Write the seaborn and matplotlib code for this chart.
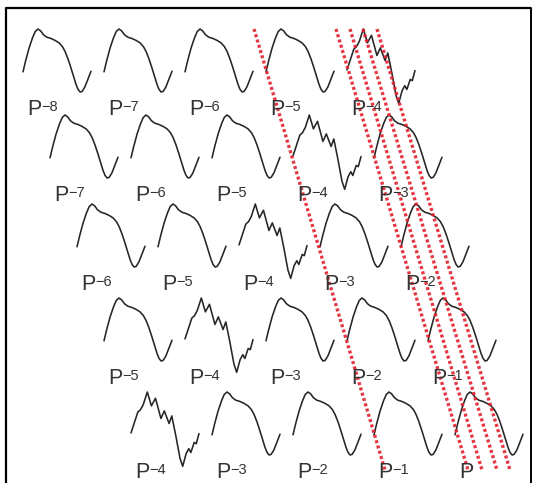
import matplotlib
matplotlib.use("Agg")
import numpy as np
import pandas as pd
import matplotlib.pyplot as plt
import seaborn as sns

# ---------------- data ----------------
# exponent suffix shown after "P" for each cell (row by row)
row_labels = [
    ["−8", "−7", "−6", "−5", "−4"],
    ["−7", "−6", "−5", "−4", "−3"],
    ["−6", "−5", "−4", "−3", "−2"],
    ["−5", "−4", "−3", "−2", "−1"],
    ["−4", "−3", "−2", "−1", ""],
]

# smooth waveform (normalised: u = 0..1 left->right, v = 0 trough .. 1 peak)
smooth_u = [0.00, 0.04, 0.09, 0.14, 0.18, 0.22, 0.26, 0.30, 0.35, 0.41, 0.47,
            0.53, 0.58, 0.62, 0.66, 0.70, 0.74, 0.78, 0.81, 0.84, 0.87, 0.91,
            0.95, 1.00]
smooth_v = [0.32, 0.50, 0.70, 0.86, 0.96, 1.00, 0.97, 0.91, 0.87, 0.85, 0.82,
            0.78, 0.72, 0.64, 0.53, 0.40, 0.26, 0.12, 0.04, 0.00, 0.01, 0.08,
            0.19, 0.33]

# jagged waveform (the P-4 cells)
noisy_u = [0.00, 0.10, 0.14, 0.18, 0.24, 0.30, 0.36, 0.44, 0.49, 0.56, 0.60,
           0.66, 0.72, 0.76, 0.81, 0.85, 0.88, 0.93, 0.96, 1.00]
noisy_v = [0.35, 0.68, 0.72, 0.80, 1.00, 0.78, 0.90, 0.58, 0.70, 0.50, 0.62,
           0.30, -0.05, -0.18, 0.02, 0.10, 0.04, 0.20, 0.18, 0.34]

# red dotted guide lines: x at the top and at the bottom
red_top_x = [254, 336, 350, 363, 377]
red_bottom_x = [385, 468, 482, 497, 510]
red_top_y = 29
red_bottom_y = 470

# ---------------- layout ----------------
W_PX, H_PX = 535, 483
X0 = 23
COL_STEP = 81
ROW_SHIFT = 27
ROW_TOPS = [29, 115, 204, 298, 392]
WAVE_W = 68
WAVE_H = 63
LABEL_DX = 4
LABEL_DY = 70

sns.set_theme(style="white")
plt.rcParams["font.family"] = ["Liberation Sans", "DejaVu Sans"]

fig = plt.figure(figsize=(W_PX / 100, H_PX / 100), dpi=100)
ax = fig.add_axes([0, 0, 1, 1])
ax.set_xlim(0, W_PX)
ax.set_ylim(H_PX, 0)
ax.axis("off")

rows = []
wid = 0
for r in range(5):
    for c in range(5):
        x0 = X0 + ROW_SHIFT * r + COL_STEP * c
        top = ROW_TOPS[r]
        noisy = row_labels[r][c] == "−4"
        us = noisy_u if noisy else smooth_u
        vs = noisy_v if noisy else smooth_v
        for u, v in zip(us, vs):
            rows.append({"id": wid, "x": x0 + u * WAVE_W, "y": top + (1 - v) * WAVE_H})
        wid += 1
waves = pd.DataFrame(rows)

sns.lineplot(data=waves, x="x", y="y", units="id", estimator=None, sort=False,
             color="#262626", linewidth=1.15, ax=ax, legend=False)

# labels
for r in range(5):
    for c in range(5):
        x0 = X0 + ROW_SHIFT * r + COL_STEP * c
        ly = ROW_TOPS[r] + LABEL_DY
        lx = x0 + LABEL_DX
        ax.text(lx, ly, "P", fontsize=15.5, color="#333333", va="top", ha="left")
        if row_labels[r][c]:
            ax.text(lx + 14.5, ly + 1, row_labels[r][c], fontsize=10.5,
                    color="#333333", va="top", ha="left")

# red dotted guides
red_rows = []
for i, (xt, xb) in enumerate(zip(red_top_x, red_bottom_x)):
    red_rows.append({"id": i, "x": xt, "y": red_top_y})
    red_rows.append({"id": i, "x": xb, "y": red_bottom_y})
red = pd.DataFrame(red_rows)
sns.lineplot(data=red, x="x", y="y", units="id", estimator=None, sort=False,
             color="#e3202c", alpha=0.9, linewidth=2.4,
             linestyle=(0, (0.9, 0.75)), ax=ax, legend=False)

# frame
ax.plot([6, 531], [8, 8], color="black", linewidth=1.6, solid_capstyle="butt")
ax.plot([6, 6], [8, H_PX + 5], color="black", linewidth=1.6)
ax.plot([531, 531], [8, H_PX + 5], color="black", linewidth=1.4)

ax.set_xlabel("")
ax.set_ylabel("")
fig.savefig("out.png", dpi=100)
